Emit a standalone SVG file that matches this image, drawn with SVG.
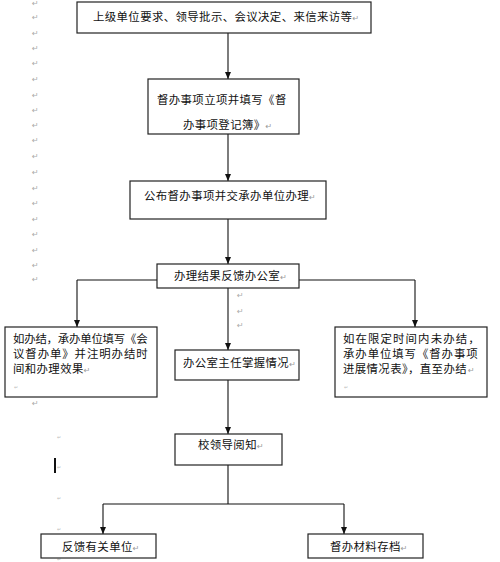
<svg xmlns="http://www.w3.org/2000/svg" width="500" height="562" viewBox="0 0 500 562">
<style>
.box{fill:#fff;stroke:#222;stroke-width:1.2}
.t{font-family:"Noto Sans CJK SC","Noto Sans",sans-serif;font-size:11.4px;letter-spacing:0.4px;fill:#111}
.pm{font-family:"DejaVu Sans",sans-serif;font-size:8px;fill:#999;letter-spacing:0}
.mk{font-family:"DejaVu Sans",sans-serif;font-size:8px;fill:#aaa}
.tiny{font-family:"DejaVu Sans",sans-serif;font-size:5px;fill:#bbb}
.ln{fill:none;stroke:#111;stroke-width:1.1}
</style>
<defs>
<marker id="ah" markerWidth="8" markerHeight="8" refX="7" refY="4" orient="auto" markerUnits="userSpaceOnUse">
<path d="M0,1 L7,4 L0,7 Z" fill="#111"/>
</marker>
</defs>
<g id="margin">
<text class="mk" x="32" y="6">↵</text>
<text class="mk" x="32" y="20">↵</text>
<text class="mk" x="32" y="36">↵</text>
<text class="mk" x="32" y="51">↵</text>
<text class="mk" x="32" y="66">↵</text>
<text class="mk" x="32" y="82">↵</text>
<text class="mk" x="32" y="98">↵</text>
<text class="mk" x="32" y="113">↵</text>
<text class="mk" x="32" y="128">↵</text>
<text class="mk" x="32" y="143">↵</text>
<text class="mk" x="32" y="159">↵</text>
<text class="mk" x="32" y="175">↵</text>
<text class="mk" x="32" y="191">↵</text>
<text class="mk" x="32" y="206">↵</text>
<text class="mk" x="32" y="222">↵</text>
<text class="mk" x="32" y="237">↵</text>
<text class="mk" x="32" y="253">↵</text>
<text class="mk" x="32" y="268">↵</text>
<text class="mk" x="32" y="282">↵</text>
<text class="mk" x="32" y="406">↵</text>
<text class="mk" x="237" y="298">↵</text>
<text class="mk" x="237" y="314">↵</text>
<text class="mk" x="237" y="328">↵</text>
<text class="tiny" x="57" y="439">↵</text>
<text class="tiny" x="57" y="469">↵</text>
<text class="tiny" x="57" y="500">↵</text>
<text class="tiny" x="57" y="531">↵</text>
<text class="tiny" x="57" y="561">↵</text>
<rect x="54" y="458" width="2" height="15" fill="#111"/>
</g>
<g id="connectors">
<line class="ln" x1="228" y1="33" x2="228" y2="79" marker-end="url(#ah)"/>
<line class="ln" x1="228" y1="134" x2="228" y2="181" marker-end="url(#ah)"/>
<line class="ln" x1="228" y1="219" x2="228" y2="264" marker-end="url(#ah)"/>
<path class="ln" d="M77,280 H415"/>
<line class="ln" x1="77" y1="280" x2="77" y2="327" marker-end="url(#ah)"/>
<line class="ln" x1="415" y1="280" x2="415" y2="327" marker-end="url(#ah)"/>
<line class="ln" x1="228" y1="288" x2="228" y2="350" marker-end="url(#ah)"/>
<line class="ln" x1="228" y1="380" x2="228" y2="434" marker-end="url(#ah)"/>
<path class="ln" d="M228,465 V504 M103,504 H344"/>
<line class="ln" x1="103" y1="504" x2="103" y2="534" marker-end="url(#ah)"/>
<line class="ln" x1="344" y1="504" x2="344" y2="534" marker-end="url(#ah)"/>
</g>
<g id="n1">
<rect class="box" x="77" y="2" width="294" height="31"/>
<text class="t" x="93" y="21">上级单位要求、领导批示、会议决定、来信来访等<tspan class="pm">↵</tspan></text>
</g>
<g id="n2">
<rect class="box" x="148" y="79" width="151" height="55"/>
<text class="t" x="157" y="104">督办事项立项并填写《督</text>
<text class="t" x="183" y="129">办事项登记簿》<tspan class="pm">↵</tspan></text>
</g>
<g id="n3">
<rect class="box" x="130" y="181" width="196" height="38"/>
<text class="t" x="144" y="200">公布督办事项并交承办单位办理<tspan class="pm">↵</tspan></text>
</g>
<g id="n4">
<rect class="box" x="157" y="264" width="142" height="24"/>
<text class="t" x="174" y="280">办理结果反馈办公室<tspan class="pm">↵</tspan></text>
</g>
<g id="n5">
<rect class="box" x="5" y="327" width="152" height="70"/>
<text class="t" x="13" y="343" textLength="135" lengthAdjust="spacing">如办结，承办单位填写《会</text>
<text class="t" x="13" y="358" textLength="135" lengthAdjust="spacing">议督办单》并注明办结时</text>
<text class="t" x="13" y="373">间和办理效果<tspan class="pm">↵</tspan></text>
<text class="tiny" x="14" y="389">↵</text>
</g>
<g id="n6">
<rect class="box" x="175" y="350" width="124" height="30"/>
<text class="t" x="183" y="367">办公室主任掌握情况<tspan class="pm">↵</tspan></text>
</g>
<g id="n7">
<rect class="box" x="335" y="327" width="152" height="70"/>
<text class="t" x="343" y="343" textLength="137" lengthAdjust="spacing">如在限定时间内未办结，</text>
<text class="t" x="343" y="358" textLength="135" lengthAdjust="spacing">承办单位填写《督办事项</text>
<text class="t" x="343" y="373" textLength="124" lengthAdjust="spacing">进展情况表》，直至办结</text>
<text class="pm" x="468" y="373">↵</text>
<text class="tiny" x="344" y="389">↵</text>
</g>
<g id="n8">
<rect class="box" x="175" y="434" width="107" height="31"/>
<text class="t" x="198" y="449">校领导阅知<tspan class="pm">↵</tspan></text>
</g>
<g id="n9">
<rect class="box" x="41" y="534" width="115" height="24"/>
<text class="t" x="62" y="551">反馈有关单位<tspan class="pm">↵</tspan></text>
</g>
<g id="n10">
<rect class="box" x="308" y="534" width="115" height="24"/>
<text class="t" x="330" y="551">督办材料存档<tspan class="pm">↵</tspan></text>
</g>
</svg>
